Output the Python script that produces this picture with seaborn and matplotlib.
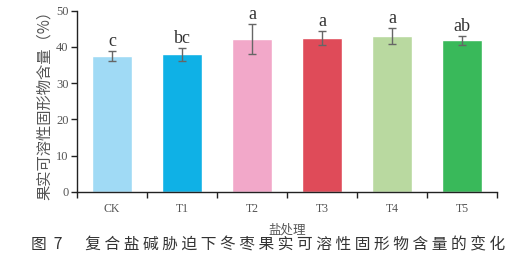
import matplotlib
matplotlib.use("Agg")
import matplotlib.pyplot as plt
import seaborn as sns
import pandas as pd
import numpy as np

categories = ["CK", "T1", "T2", "T3", "T4", "T5"]
means = [37.4, 37.9, 42.1, 42.4, 42.9, 41.8]
errors = [1.4, 1.9, 4.2, 2.0, 2.2, 1.2]
letters = ["c", "bc", "a", "a", "a", "ab"]
colors = ["#a0daf5", "#0fb1e6", "#f2a8c9", "#df4b59", "#b9d9a0", "#39b95a"]
yticks = [0, 10, 20, 30, 40, 50]
caption = "图  7　  复 合 盐 碱 胁 迫 下 冬 枣 果 实 可 溶 性 固 形 物 含 量 的 变 化"

sns.set_style("white")
plt.rcParams['font.family'] = ['Liberation Serif', 'Noto Sans CJK SC']

df = pd.DataFrame({"cat": categories, "val": means})

fig = plt.figure(figsize=(5.18, 2.65), dpi=100)
ax = fig.add_axes([0.1486, 0.2755, 0.8109, 0.6845])
sns.barplot(data=df, x="cat", y="val", hue="cat", palette=colors, legend=False,
            width=0.56, ax=ax, saturation=1, errorbar=None)
x = np.arange(len(categories))
ax.errorbar(x, means, yerr=errors, fmt="none", ecolor="#666666", elinewidth=1.0,
            capsize=3, capthick=1.0)
for xi, m, e, l in zip(x, means, errors, letters):
    ax.text(xi, m + e + 1.4, l, ha="center", va="baseline", fontsize=13,
            color="#333333", family="Liberation Serif")

ax.set_xlim(-0.5, 5.5)
ax.set_ylim(0, 50)
ax.set_yticks(yticks)
ax.set_yticklabels([str(v) for v in yticks], fontsize=9, color="#555555")
ax.set_xticks(x)
ax.set_xticklabels(categories, fontsize=8.5, color="#555555")
ax.set_xticks(np.arange(-0.5, 6.0, 1.0), minor=True)
ax.tick_params(axis="x", which="major", length=0, pad=8)
ax.tick_params(axis="x", which="minor", length=4, width=1, color="#222222", direction="out", bottom=True)
ax.tick_params(axis="y", length=4, width=1, color="#222222", direction="out", left=True, pad=2)
for s in ["top", "right"]:
    ax.spines[s].set_visible(False)
for s in ["left", "bottom"]:
    ax.spines[s].set_color("#222222")
    ax.spines[s].set_linewidth(1.0)

ax.set_xlabel("盐处理", fontsize=9, color="#555555", family=["Noto Sans CJK SC"], labelpad=6)
ax.set_ylabel("果实可溶性固形物含量（%）", fontsize=11, color="#555555",
              family=["Noto Sans CJK SC"], labelpad=2)

fig.text(0.517, 0.075, caption, ha="center",
         va="center", fontsize=11.3, color="#333333", family=["Noto Sans CJK SC"])

fig.savefig("out.png", dpi=100)
